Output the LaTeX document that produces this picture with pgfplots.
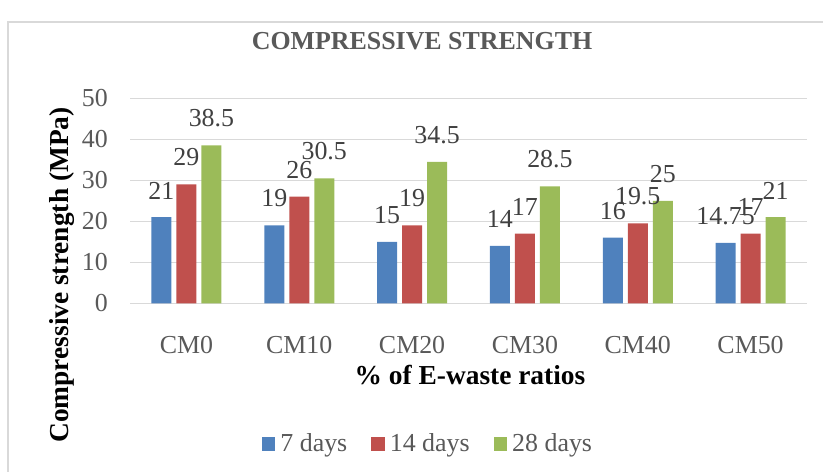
\documentclass[border=0pt]{standalone}
\usepackage{pgfplots}
\pgfplotsset{compat=1.18}
\usepackage{fontspec}
\setmainfont{Liberation Serif}

\definecolor{c7}{HTML}{4F81BD}
\definecolor{c14}{HTML}{C0504D}
\definecolor{c28}{HTML}{9BBB59}
\definecolor{gridc}{HTML}{D9D9D9}
\definecolor{txt}{HTML}{595959}
\definecolor{lbl}{HTML}{404040}

\newcommand{\chartfont}{\fontsize{26}{30}\selectfont}
\newcommand{\titlefont}{\fontsize{27.5}{32}\selectfont\bfseries}

\begin{document}
\begin{tikzpicture}
\useasboundingbox (0bp,0bp) rectangle (823bp,472bp);
% chart frame
\draw[gridc, line width=1.2bp] (8bp,-20bp) -- (8bp,450bp) -- (860bp,450bp);
% title and axis titles
\node[anchor=base, font=\chartfont\bfseries, text=txt] at (422bp,422bp) {COMPRESSIVE STRENGTH};
\node[anchor=base, font=\titlefont] at (470bp,87bp) {\% of E-waste ratios};
\node[rotate=90, anchor=base, font=\titlefont] at (68bp,197bp) {Compressive strength (MPa)};

\begin{axis}[
  at={(130bp,168.7bp)}, anchor=south west,
  scale only axis, width=677bp, height=205bp,
  ymin=0, ymax=50, ytick={0,10,...,50},
  xmin=-0.5, xmax=5.5,
  xtick={0,1,2,3,4,5},
  xticklabels={CM0,CM10,CM20,CM30,CM40,CM50},
  ybar=5bp, bar width=20bp,
  axis line style={draw=none},
  major tick length=0pt,
  ymajorgrids,
  major grid style={gridc, line width=1.2bp},
  /pgf/number format/assume math mode=true,
  ticklabel style={font=\chartfont, text=txt},
  yticklabel style={anchor=east, inner sep=0pt, xshift=-22bp},
  xticklabel style={anchor=base, inner sep=0pt, yshift=-49.7bp},
  nodes near coords,
  every node near coord/.append style={anchor=south, inner sep=0pt, yshift=18bp, font=\chartfont, text=lbl},
  legend columns=3,
  legend style={at={(0.4387,-0.684)}, anchor=center, draw=none, fill=none,
    font=\chartfont, text=txt, nodes={inner sep=0pt},
    /tikz/every odd column/.append style={column sep=5bp},
    /tikz/every even column/.append style={column sep=24bp}},
  legend image code/.code={\fill[#1] (0bp,-7bp) rectangle (13.5bp,6.5bp);},
]
\addplot[fill=c7, draw=none] coordinates {(0,21) (1,19) (2,15) (3,14) (4,16) (5,14.75)};
\addplot[fill=c14, draw=none] coordinates {(0,29) (1,26) (2,19) (3,17) (4,19.5) (5,17)};
\addplot[fill=c28, draw=none] coordinates {(0,38.5) (1,30.5) (2,34.5) (3,28.5) (4,25) (5,21)};
\legend{7 days, 14 days, 28 days}
\end{axis}
\end{tikzpicture}
\end{document}
